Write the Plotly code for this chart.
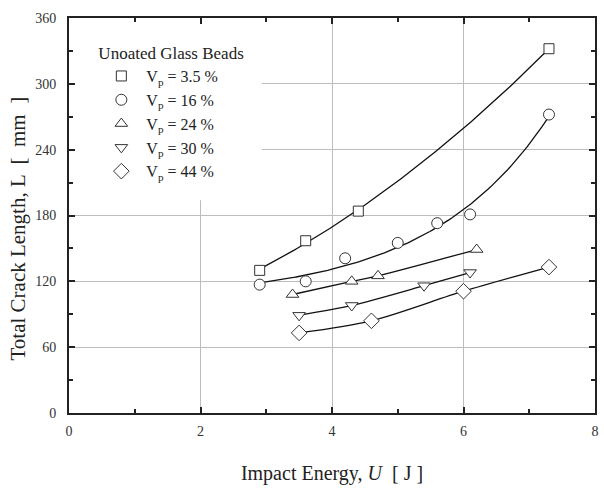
import numpy as np
import plotly.graph_objects as go

# Impact energy U [J] and total crack length L [mm] per particle volume fraction
u_35 = [2.9, 3.6, 4.4, 7.3]
l_35 = [130, 157, 184, 332]

u_16 = [2.9, 3.6, 4.2, 5.0, 5.6, 6.1, 7.3]
l_16 = [117, 120, 141, 155, 173, 181, 272]

u_24 = [3.4, 4.3, 4.7, 6.2]
l_24 = [108, 120, 125, 149]

u_30 = [3.5, 4.3, 5.4, 6.1]
l_30 = [89, 98, 116, 128]

u_44 = [3.5, 4.6, 6.0, 7.3]
l_44 = [73, 84, 111, 133]

labels = ["V<sub>p</sub> = 3.5 %", "V<sub>p</sub> = 16 %", "V<sub>p</sub> = 24 %",
          "V<sub>p</sub> = 30 %", "V<sub>p</sub> = 44 %"]
symbols = ["square", "circle", "triangle-up", "triangle-down", "diamond"]
sizes = [10, 11, 11, 11, 12]
series = [(u_35, l_35), (u_16, l_16), (u_24, l_24), (u_30, l_30), (u_44, l_44)]
fit_kind = ["poly2", "exp", "spline", "spline", "spline"]


def exp_fit(u, l):
    """Least-squares fit of L = a + b*exp(c*U), scanning c."""
    u = np.asarray(u, float)
    l = np.asarray(l, float)
    best = None
    for c in np.linspace(0.05, 2.0, 400):
        A = np.column_stack([np.ones_like(u), np.exp(c * u)])
        coef, *_ = np.linalg.lstsq(A, l, rcond=None)
        err = np.sum((A @ coef - l) ** 2)
        if best is None or err < best[0]:
            best = (err, coef[0], coef[1], c)
    _, a, b, c = best
    return lambda x: a + b * np.exp(c * x)


FONT = "Liberation Serif"
fig = go.Figure()

# curves first so markers sit on top
for (u, l), kind in zip(series, fit_kind):
    if kind == "spline":
        fig.add_trace(go.Scatter(x=u, y=l, mode="lines",
                                 line=dict(color="#111", width=1.3, shape="spline", smoothing=0.8),
                                 showlegend=False, hoverinfo="skip"))
        continue
    xs = np.linspace(min(u), max(u), 120)
    if kind == "poly2":
        ys = np.polyval(np.polyfit(u, l, 2), xs)
    else:
        ys = exp_fit(u, l)(xs)
    fig.add_trace(go.Scatter(x=xs, y=ys, mode="lines", line=dict(color="#111", width=1.3),
                             showlegend=False, hoverinfo="skip"))

for (u, l), name, sym, sz in zip(series, labels, symbols, sizes):
    fig.add_trace(go.Scatter(x=u, y=l, mode="markers", name=name,
                             marker=dict(symbol=sym, size=sz, color="white",
                                         line=dict(color="#333", width=1))))

axis_common = dict(showline=True, linecolor="#222", linewidth=2, mirror="ticks",
                   ticks="inside", ticklen=6, tickwidth=1.5, tickcolor="#222",
                   showgrid=True, gridcolor="#bdbdbd", gridwidth=1, zeroline=False,
                   tickfont=dict(family=FONT, size=14, color="#333"),
                   minor=dict(ticks="inside", ticklen=4, tickcolor="#222", showgrid=False))

fig.update_xaxes(range=[0, 8], tickvals=[0, 2, 4, 6, 8], minor_dtick=1, ticklabelstandoff=4,
                 title=dict(text="Impact Energy, <i>U</i>  [ J ]",
                            font=dict(family=FONT, size=20, color="#222"), standoff=28),
                 **axis_common)
fig.update_yaxes(range=[0, 360], tickvals=[0, 60, 120, 180, 240, 300, 360], minor_dtick=30,
                 ticklabelstandoff=8, **axis_common)

# y-axis title, placed a little below the plot's mid-height
fig.add_annotation(text="Total Crack Length, L  [  mm  ]", textangle=-90,
                   xref="paper", yref="paper", x=-0.0962, y=0.468,
                   xanchor="center", yanchor="middle", showarrow=False,
                   font=dict(family=FONT, size=21, color="#222"))

# white panel behind the legend, covering the grid in that corner
fig.add_shape(type="rect", xref="x", yref="y", x0=0, x1=2.93, y0=194, y1=360,
              fillcolor="white", line_width=0, layer="between")

fig.update_layout(
    width=604, height=488,
    margin=dict(l=69, r=5, t=18, b=75),
    plot_bgcolor="white", paper_bgcolor="white",
    legend=dict(x=0.052, y=0.952, xanchor="left", yanchor="top",
                bgcolor="rgba(0,0,0,0)", borderwidth=0,
                title=dict(text="Unoated Glass Beads", font=dict(family=FONT, size=17, color="#222")),
                font=dict(family=FONT, size=16, color="#222"),
                tracegroupgap=0, itemwidth=40),
)

fig.write_html("out.html")
